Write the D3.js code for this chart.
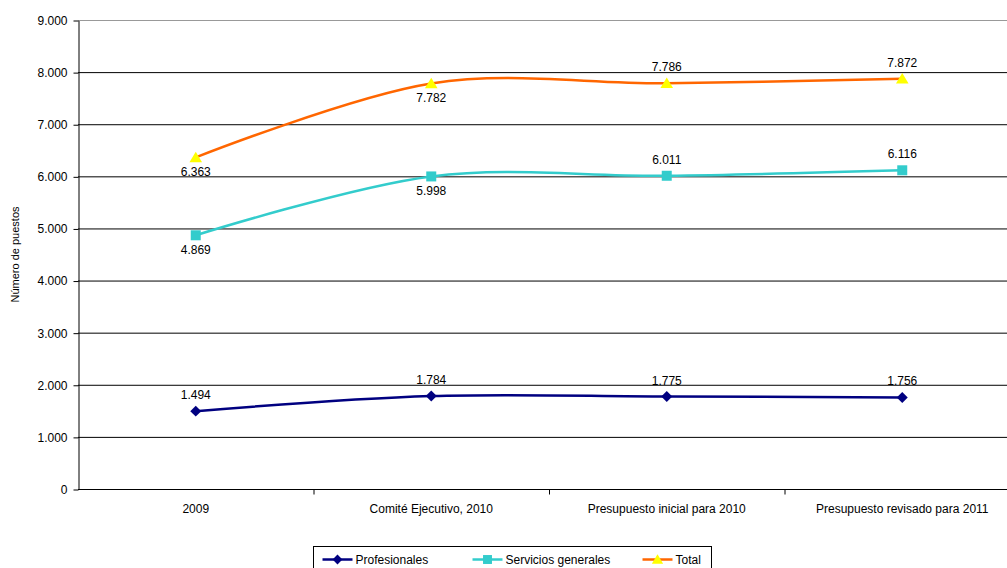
<!DOCTYPE html>
<html>
  <head>
    <meta charset="utf-8">
    <script src="https://unpkg.com/d3@7/dist/d3.min.js"></script>
    <style>
      body { margin: 0; background: #fff; }
      text { font-family: "Liberation Sans", Arial, sans-serif; font-size: 12px; fill: #000; }
    </style>
  </head>
  <body>
    <script>
      const categories = ['2009', 'Comité Ejecutivo, 2010', 'Presupuesto inicial para 2010', 'Presupuesto revisado para 2011'];
      const profesionales = [1494, 1784, 1775, 1756];
      const servicios = [4869, 5998, 6011, 6116];
      const total = [6363, 7782, 7786, 7872];
      const yTicks = [0, 1000, 2000, 3000, 4000, 5000, 6000, 7000, 8000, 9000];

      const width = 1007, height = 568;
      const plotL = 78, plotT = 20, plotW = 942, plotH = 469;

      const svg = d3.select('body').append('svg')
        .attr('width', width).attr('height', height);

      const x = d3.scaleBand().domain(categories).range([plotL, plotL + plotW]);
      const y = d3.scaleLinear().domain([0, 9000]).range([plotT + plotH, plotT]);
      const fmt = v => d3.format(',')(v).replace(/,/g, '.');

      // gridlines
      svg.append('g').selectAll('line').data(yTicks.slice(1)).enter().append('line')
        .attr('x1', plotL).attr('x2', plotL + plotW)
        .attr('y1', d => y(d) + 0.5).attr('y2', d => y(d) + 0.5)
        .style('stroke', d => d === 9000 ? '#999' : '#000').style('stroke-width', 1);

      const yAxis = svg.append('g').attr('transform', `translate(${plotL + 0.5},0.5)`)
        .call(d3.axisLeft(y).tickValues(yTicks).tickFormat(fmt).tickSize(5).tickSizeOuter(0));
      yAxis.selectAll('text').attr('dx', '-3px').style('font-size', '12px');

      const xAxis = svg.append('g').attr('transform', `translate(0,${plotT + plotH + 0.5})`);
      xAxis.append('line').attr('x1', plotL).attr('x2', plotL + plotW).style('stroke', '#000');
      xAxis.selectAll('line.t').data(categories.slice(1)).enter().append('line')
        .attr('x1', d => x(d) + 0.5).attr('x2', d => x(d) + 0.5).attr('y1', 0).attr('y2', 5)
        .style('stroke', '#000');
      xAxis.selectAll('text').data(categories).enter().append('text')
        .attr('x', d => x(d) + x.bandwidth() / 2).attr('y', 23)
        .attr('text-anchor', 'middle').text(d => d);
      svg.selectAll('.domain, .tick line').style('stroke', '#000');

      svg.append('text').attr('transform', `translate(19,${plotT + plotH / 2}) rotate(-90)`)
        .attr('text-anchor', 'middle').style('font-size', '11px').text('Número de puestos');

      const cx = d => x(d) + x.bandwidth() / 2;
      const line = d3.line().x((d, i) => cx(categories[i])).y(d => y(d)).curve(d3.curveCardinal.tension(0));

      // square diamond like Excel's marker
      const diamond = { draw(ctx, size) { const r = Math.sqrt(size / 2); ctx.moveTo(0, -r); ctx.lineTo(r, 0); ctx.lineTo(0, r); ctx.lineTo(-r, 0); ctx.closePath(); } };
      const triangle = { draw(ctx, size) { const r = Math.sqrt(size) / 2; ctx.moveTo(0, -r * 1.1); ctx.lineTo(r * 1.2, r * 0.9); ctx.lineTo(-r * 1.2, r * 0.9); ctx.closePath(); } };

      const series = [
        { name: 'Profesionales', values: profesionales, color: '#000080', fill: '#000080', sym: diamond, size: 60, pos: [-1, -1, -1, -1] },
        { name: 'Servicios generales', values: servicios, color: '#33CCCC', fill: '#33CCCC', sym: d3.symbolSquare, size: 100, pos: [1, 1, -1, -1] },
        { name: 'Total', values: total, color: '#FF6600', fill: '#FFFF00', sym: triangle, size: 110, pos: [1, 1, -1, -1] }
      ];

      series.forEach(s => {
        svg.append('path').datum(s.values).attr('d', line)
          .style('fill', 'none').style('stroke', s.color).style('stroke-width', 2.5);
        svg.append('g').selectAll('path').data(s.values).enter().append('path')
          .attr('transform', (d, i) => `translate(${cx(categories[i])},${y(d)})`)
          .attr('d', d3.symbol().type(s.sym).size(s.size))
          .style('fill', s.fill);
        svg.append('g').selectAll('text').data(s.values).enter().append('text')
          .attr('x', (d, i) => cx(categories[i]))
          .attr('y', (d, i) => y(d) + (s.pos[i] > 0 ? 19 : -12))
          .attr('text-anchor', 'middle').text(fmt);
      });

      // legend
      const lg = svg.append('g').attr('transform', 'translate(313.5,546.5)');
      lg.append('rect').attr('width', 398).attr('height', 30).style('fill', '#fff').style('stroke', '#000');
      const offs = [9, 159, 329];
      series.forEach((s, i) => {
        const g = lg.append('g').attr('transform', `translate(${offs[i]},13)`);
        g.append('line').attr('x1', 0).attr('x2', 30).style('stroke', s.color).style('stroke-width', 2.5);
        g.append('path').attr('transform', 'translate(15,0)').attr('d', d3.symbol().type(s.sym).size(s.size * 0.8)).style('fill', s.fill);
        g.append('text').attr('x', 33).attr('y', 4).text(s.name);
      });
    </script>
  </body>
</html>
